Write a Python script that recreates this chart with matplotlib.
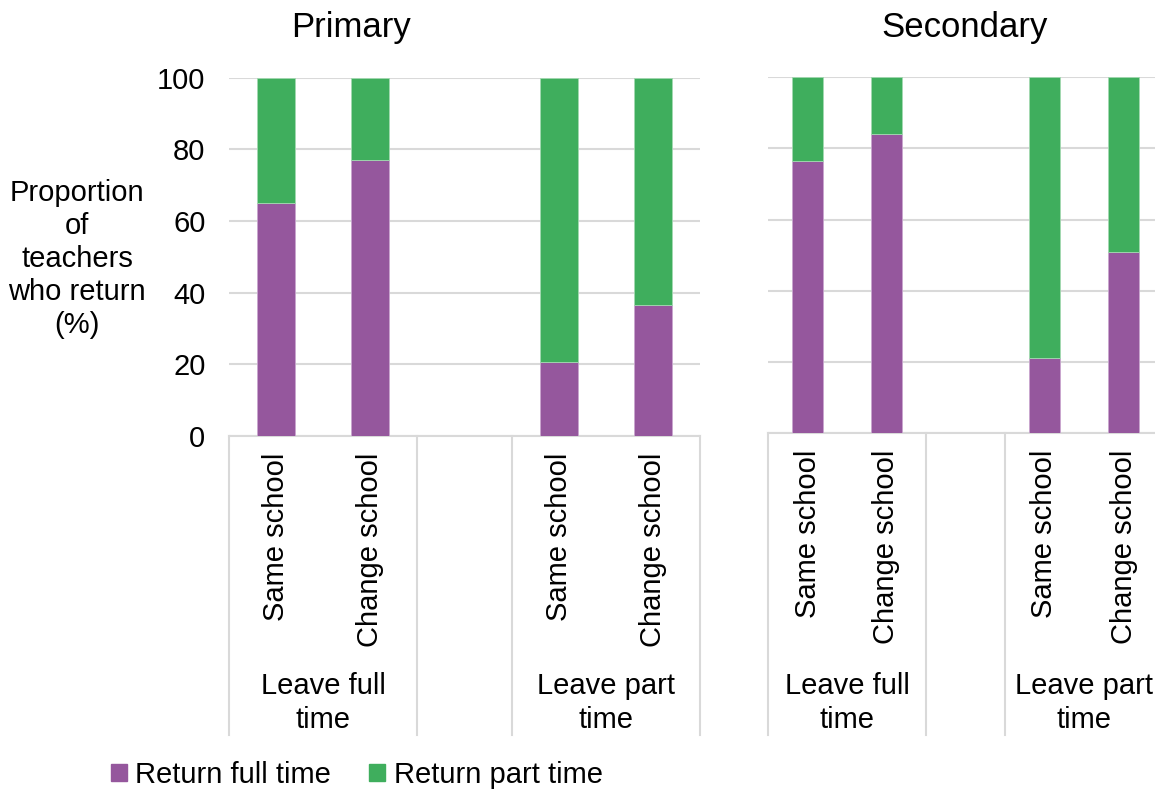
import numpy as np
import matplotlib.pyplot as plt
from matplotlib.patches import Patch
from matplotlib.transforms import blended_transform_factory

plt.rcParams['font.family'] = ['Liberation Sans', 'DejaVu Sans']

# data
categories = ["Same school", "Change school", "", "Same school", "Change school"]
groups = ["Leave full\ntime", "Leave part\ntime"]
primary_full = [65, 77, None, 20.5, 36.5]
secondary_full = [76.5, 84, None, 21, 51]
series_names = ["Return full time", "Return part time"]

PURPLE = "#95579D"
GREEN = "#3FAE5D"
GRID = "#D9D9D9"
FS = 21

W, H = 1155, 789
fig = plt.figure(figsize=(W / 100, H / 100), dpi=100)


def panel(left, top, width, bottom, full, show_y):
        """one stacked-bar panel, placed in pixel coordinates"""
        ax = fig.add_axes([left / W, 1 - bottom / H, width / W, (bottom - top) / H])
        idx = [i for i, c in enumerate(categories) if c]
        ft = np.array([full[i] for i in idx], dtype=float)
        ax.bar(idx, ft, width=0.4, color=PURPLE, edgecolor="#C9A6CF", linewidth=0.6, zorder=3)
        ax.bar(idx, 100 - ft, bottom=ft, width=0.4, color=GREEN,
               edgecolor="#A3D9B1", linewidth=0.6, zorder=3)
        ax.set_xlim(-0.5, len(categories) - 0.5)
        ax.set_ylim(0, 100)
        ax.set_yticks(range(0, 101, 20))
        ax.yaxis.grid(True, color=GRID, linewidth=1.5, zorder=0)
        for s in ["top", "right", "left"]:
                ax.spines[s].set_visible(False)
        ax.spines["bottom"].set_color(GRID)
        ax.spines["bottom"].set_linewidth(1.5)
        ax.set_xticks(idx)
        ax.set_xticklabels([categories[i] for i in idx], rotation=90, fontsize=FS)
        ax.tick_params(axis="x", length=0, pad=12)
        ax.tick_params(axis="y", length=0, pad=17, labelsize=FS)
        if not show_y:
                ax.set_yticklabels([])
        # group separators and labels below the axis
        trans = blended_transform_factory(ax.transData, ax.transAxes)
        depth = (735 - bottom) / (bottom - top)
        for xs in [-0.5, 1.5, 2.5, 4.5]:
                ax.plot([xs, xs], [0, -depth], color=GRID, linewidth=1.5,
                        transform=trans, clip_on=False)
        ymid = (bottom - 703) / (bottom - top)
        for gx, g in zip([0.5, 3.5], groups):
                ax.text(gx, ymid, g, transform=trans, ha="center", va="center",
                        fontsize=FS, linespacing=1.25)
        return ax


panel(229, 77.7, 471, 435.7, primary_full, True)
panel(768, 77.3, 395, 433, secondary_full, False)

fig.text(351 / W, 1 - 27 / H, "Primary", ha="center", va="center", fontsize=25)
fig.text(965 / W, 1 - 27 / H, "Secondary", ha="center", va="center", fontsize=25)
fig.text(77 / W, 1 - 259 / H, "Proportion\nof\nteachers\nwho return\n(%)",
         ha="center", va="center", fontsize=FS, linespacing=1.22)

handles = [Patch(color=PURPLE), Patch(color=GREEN)]
fig.legend(handles, series_names, loc="center left", bbox_to_anchor=(96 / W, 1 - 775 / H),
           ncol=2, frameon=False, fontsize=FS, handlelength=0.55, handleheight=0.55,
           handletextpad=0.3, columnspacing=1.3, borderpad=0)

fig.savefig("out.png", dpi=100)
